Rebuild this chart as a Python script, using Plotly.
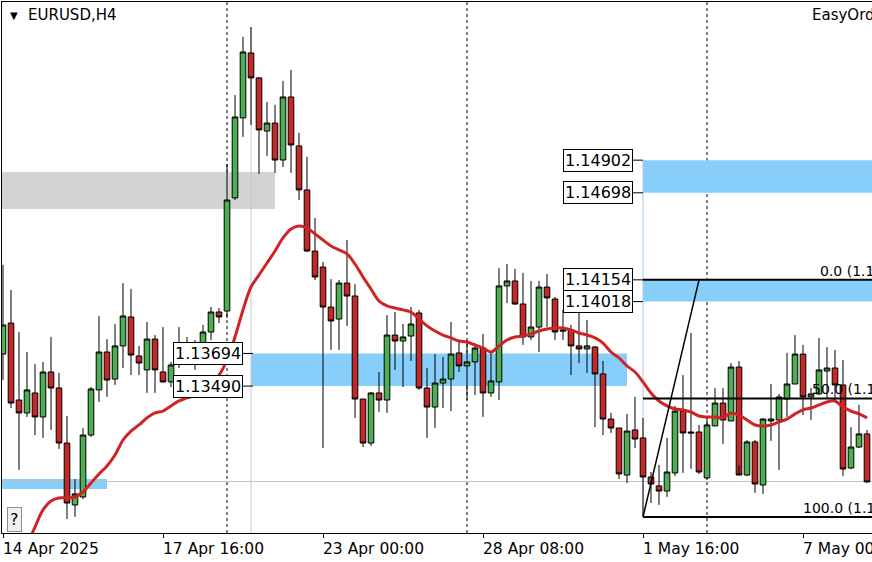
import plotly.graph_objects as go

# EURUSD H4 candles, one per bar (bar index 0 = first visible bar)
opens = [1.13690, 1.13884, 1.13403, 1.13322, 1.13447, 1.13297, 1.13578, 1.13478, 1.13134, 1.12747,
         1.12797, 1.13184, 1.13466, 1.13703, 1.13534, 1.13741, 1.13922, 1.13678, 1.13591, 1.13784,
         1.13578, 1.13516, 1.13628, 1.13747, 1.13697, 1.13716, 1.13828, 1.13953, 1.13959, 1.14666,
         1.15166, 1.15572, 1.15416, 1.15084, 1.15134, 1.14903, 1.15297, 1.14991, 1.14716, 1.14334,
         1.14234, 1.13984, 1.13909, 1.14134, 1.14053, 1.13409, 1.13134, 1.13447, 1.13403, 1.13809,
         1.13772, 1.13803, 1.13947, 1.13478, 1.13359, 1.13509, 1.13534, 1.13697, 1.13616, 1.13641,
         1.13728, 1.13447, 1.13516, 1.14116, 1.14147, 1.14003, 1.13797, 1.13859, 1.14109, 1.14034,
         1.13841, 1.13841, 1.13741, 1.13722, 1.13734, 1.13566, 1.13284, 1.13228, 1.12934, 1.13216,
         1.13166, 1.12922, 1.12866, 1.12834, 1.12947, 1.13334, 1.13203, 1.13203, 1.12916, 1.13241,
         1.13384, 1.13272, 1.13609, 1.12934, 1.13141, 1.12872, 1.13272, 1.13278, 1.13409, 1.13503,
         1.13690, 1.13422, 1.13441, 1.13584, 1.13603, 1.13497, 1.12978, 1.13109, 1.13191]
highs = [1.14247, 1.14091, 1.13828, 1.13703, 1.13628, 1.13641, 1.13797, 1.13572, 1.13303, 1.12909,
         1.13228, 1.13484, 1.13928, 1.13784, 1.13878, 1.14134, 1.14097, 1.13741, 1.13891, 1.13809,
         1.13859, 1.13641, 1.13859, 1.13797, 1.13778, 1.13872, 1.13984, 1.13978, 1.14878, 1.15309,
         1.15672, 1.15734, 1.15422, 1.15266, 1.15247, 1.15397, 1.15466, 1.15072, 1.14922, 1.14541,
         1.14266, 1.14159, 1.14153, 1.14403, 1.14128, 1.13409, 1.13453, 1.13578, 1.13934, 1.13953,
         1.13878, 1.13984, 1.13966, 1.13603, 1.13690, 1.13672, 1.13891, 1.13778, 1.13778, 1.13759,
         1.13816, 1.13703, 1.14228, 1.14253, 1.14222, 1.14197, 1.14147, 1.14147, 1.14191, 1.14047,
         1.13966, 1.13872, 1.14009, 1.13903, 1.13741, 1.13647, 1.13322, 1.13228, 1.13316, 1.13422,
         1.13291, 1.12953, 1.12997, 1.13166, 1.13366, 1.13559, 1.13822, 1.13247, 1.13297, 1.13478,
         1.13478, 1.13634, 1.13647, 1.13153, 1.13153, 1.13290, 1.13503, 1.13441, 1.13697, 1.13809,
         1.13747, 1.13478, 1.13791, 1.13734, 1.13716, 1.13653, 1.13234, 1.13372, 1.13216]
lows = [1.13528, 1.13353, 1.12966, 1.13297, 1.13184, 1.13166, 1.13216, 1.13097, 1.12659, 1.12672,
        1.12784, 1.13172, 1.13391, 1.13422, 1.13497, 1.13603, 1.13559, 1.13559, 1.13447, 1.13447,
        1.13509, 1.13484, 1.13603, 1.13653, 1.13591, 1.13697, 1.13778, 1.13884, 1.13916, 1.14653,
        1.15047, 1.15122, 1.14816, 1.14928, 1.14822, 1.14859, 1.14822, 1.14653, 1.14328, 1.14153,
        1.13103, 1.13716, 1.13716, 1.13866, 1.13291, 1.13109, 1.13116, 1.13328, 1.13322, 1.13591,
        1.13484, 1.13647, 1.13466, 1.13166, 1.13228, 1.13353, 1.13334, 1.13578, 1.13403, 1.13434,
        1.13297, 1.13422, 1.13403, 1.14009, 1.13997, 1.13747, 1.13778, 1.13703, 1.13859, 1.13778,
        1.13778, 1.13559, 1.13634, 1.13572, 1.13234, 1.13184, 1.13197, 1.12909, 1.12884, 1.13103,
        1.12672, 1.12759, 1.12747, 1.12797, 1.12928, 1.12947, 1.12972, 1.12941, 1.12903, 1.13241,
        1.13128, 1.13272, 1.12997, 1.12928, 1.12822, 1.12816, 1.13147, 1.12966, 1.13297, 1.13503,
        1.13309, 1.13278, 1.13434, 1.13409, 1.13397, 1.12928, 1.12972, 1.13103, 1.12884]
closes = [1.13872, 1.13384, 1.13322, 1.13466, 1.13297, 1.13578, 1.13478, 1.13134, 1.12759, 1.12816,
          1.13184, 1.13472, 1.13703, 1.13528, 1.13741, 1.13928, 1.13684, 1.13634, 1.13784, 1.13591,
          1.13516, 1.13622, 1.13753, 1.13703, 1.13716, 1.13828, 1.13953, 1.13922, 1.14653, 1.15172,
          1.15578, 1.15416, 1.15091, 1.15134, 1.14903, 1.15297, 1.14997, 1.14716, 1.14334, 1.14172,
          1.13984, 1.13897, 1.14134, 1.14053, 1.13409, 1.13134, 1.13447, 1.13403, 1.13809, 1.13772,
          1.13797, 1.13878, 1.13478, 1.13359, 1.13509, 1.13534, 1.13690, 1.13616, 1.13641, 1.13728,
          1.13447, 1.13522, 1.14116, 1.14147, 1.14003, 1.13797, 1.13859, 1.14109, 1.14041, 1.13828,
          1.13834, 1.13741, 1.13722, 1.13741, 1.13566, 1.13284, 1.13228, 1.12941, 1.13209, 1.13159,
          1.12922, 1.12878, 1.12834, 1.12953, 1.13334, 1.13197, 1.13197, 1.12953, 1.13247, 1.13384,
          1.13278, 1.13609, 1.12934, 1.13141, 1.12878, 1.13284, 1.13284, 1.13422, 1.13503, 1.13690,
          1.13422, 1.13441, 1.13591, 1.13603, 1.13497, 1.12972, 1.13109, 1.13191, 1.12891]

# moving average, from bar 3 onwards
ma_start = 3
ma_values = [1.12497, 1.12609, 1.12716, 1.12772, 1.12791, 1.12791, 1.12797, 1.12828, 1.12884, 1.12941,
             1.12991, 1.13059, 1.13153, 1.13209, 1.13247, 1.13291, 1.13322, 1.13334, 1.13366, 1.13397,
             1.13416, 1.13434, 1.13466, 1.13509, 1.13559, 1.13653, 1.13797, 1.13966, 1.14109, 1.14184,
             1.14259, 1.14334, 1.14416, 1.14472, 1.14491, 1.14478, 1.14441, 1.14403, 1.14366, 1.14341,
             1.14316, 1.14253, 1.14172, 1.14097, 1.14022, 1.13991, 1.13978, 1.13966, 1.13953, 1.13909,
             1.13866, 1.13834, 1.13809, 1.13791, 1.13772, 1.13766, 1.13747, 1.13728, 1.13703, 1.13741,
             1.13778, 1.13797, 1.13803, 1.13816, 1.13834, 1.13847, 1.13853, 1.13853, 1.13841, 1.13822,
             1.13809, 1.13791, 1.13759, 1.13703, 1.13666, 1.13616, 1.13578, 1.13516, 1.13447, 1.13397,
             1.13366, 1.13347, 1.13341, 1.13328, 1.13303, 1.13297, 1.13297, 1.13291, 1.13322, 1.13309,
             1.13278, 1.13247, 1.13241, 1.13247, 1.13266, 1.13284, 1.13316, 1.13341, 1.13353, 1.13372,
             1.13391, 1.13397, 1.13359, 1.13334, 1.13316, 1.13291]

tick_idx = [0, 20, 40, 60, 80, 100]
tick_text = ["14 Apr 2025", "17 Apr 16:00", "23 Apr 00:00", "28 Apr 08:00", "1 May 16:00", "7 May 00:00"]

# supply / demand boxes (blue) and labels
zone_hi = [1.14902, 1.14154, 1.13694, 1.12909]
zone_lo = [1.14698, 1.14018, 1.13490, 1.12847]
zone_from = [80, 80, 31, -1]
zone_to = [110, 110, 78, 13]
label_at = [78.75, 78.75, 30, None]

gray_hi, gray_lo, gray_to = 1.14828, 1.14597, 34
price_line = 1.12894
separators = [28, 58, 88]

# fibonacci
fib_lo_bar, fib_hi_bar = 80, 87
fib_lo, fib_hi = 1.12672, 1.14154
fib_levels = [0.0, 0.5, 1.0]

x = list(range(len(opens)))
ma_x = list(range(ma_start, ma_start + len(ma_values)))

fig = go.Figure()
fig.add_trace(go.Candlestick(
    x=x, open=opens, high=highs, low=lows, close=closes,
    increasing=dict(line=dict(color="black", width=1), fillcolor="#4caf50"),
    decreasing=dict(line=dict(color="black", width=1), fillcolor="#c62828"),
    whiskerwidth=0, hoverinfo="skip",
))
fig.add_trace(go.Scatter(x=ma_x, y=ma_values, mode="lines",
                         line=dict(color="#d02424", width=3, shape="spline"), hoverinfo="skip"))

shapes = []
for hi, lo, a, b in zip(zone_hi, zone_lo, zone_from, zone_to):
    shapes.append(dict(type="rect", x0=a, x1=b, y0=lo, y1=hi, xref="x", yref="y",
                       fillcolor="#87cefa", line=dict(width=0), layer="below"))
shapes.append(dict(type="rect", x0=-1, x1=gray_to, y0=gray_lo, y1=gray_hi,
                   fillcolor="#d3d3d3", line=dict(width=0), layer="below"))
shapes.append(dict(type="line", x0=-1, x1=110, y0=price_line, y1=price_line,
                   line=dict(color="#c0c0c0", width=1), layer="below"))
shapes.append(dict(type="line", x0=31, x1=31, y0=1.1250, y1=highs[31],
                   line=dict(color="#c8c8c8", width=1), layer="below"))
shapes.append(dict(type="line", x0=80, x1=80, y0=fib_lo, y1=zone_hi[0],
                   line=dict(color="#a8c8e8", width=1), layer="below"))
for s in separators:
    shapes.append(dict(type="line", x0=s, x1=s, y0=0, y1=1, yref="paper",
                       line=dict(color="black", width=1, dash="dot"), layer="below"))

# fib levels
for lvl in fib_levels:
    p = fib_hi - (fib_hi - fib_lo) * lvl
    shapes.append(dict(type="line", x0=fib_lo_bar, x1=110, y0=p, y1=p, line=dict(color="black", width=2)))
shapes.append(dict(type="line", x0=fib_lo_bar, x1=fib_hi_bar, y0=fib_lo, y1=fib_hi,
                   line=dict(color="black", width=1.5)))

annotations = []
for hi, lo, lx in zip(zone_hi, zone_lo, label_at):
    if lx is None:
        continue
    for p in (hi, lo):
        annotations.append(dict(x=lx, y=p, xref="x", yref="y", text=f"{p:.5f}", showarrow=False,
                                xanchor="right", yanchor="middle", bgcolor="white", bordercolor="black",
                                borderwidth=1, borderpad=1,
                                font=dict(family="DejaVu Sans", size=16, color="black")))
        shapes.append(dict(type="line", x0=lx, x1=lx + 1.25, y0=p, y1=p, line=dict(color="black", width=1)))

fib_text_x = [101.9, 100.9, 99.75]
for lvl, tx in zip(fib_levels, fib_text_x):
    p = fib_hi - (fib_hi - fib_lo) * lvl
    annotations.append(dict(x=tx, y=p, xref="x", yref="y", text=f"{lvl*100:.1f} ({p:.5f})", showarrow=False,
                            xanchor="left", yanchor="bottom", yshift=-1,
                            font=dict(family="DejaVu Sans", size=14, color="black")))

# time labels start at their tick, MT4 style
for t, lab in zip(tick_idx, tick_text):
    annotations.append(dict(x=t, y=0, xref="x", yref="paper", text=lab, showarrow=False,
                            xanchor="left", yanchor="top", xshift=-2, yshift=-5,
                            font=dict(family="DejaVu Sans", size=15.5, color="black")))

annotations += [
    dict(x=6 / 872, y=1 - 14 / 562, xref="paper", yref="paper", text="▼", showarrow=False,
         xanchor="left", yanchor="middle", font=dict(family="DejaVu Sans", size=10, color="black")),
    dict(x=24 / 872, y=1 - 14 / 562, xref="paper", yref="paper", text="EURUSD,H4", showarrow=False,
         xanchor="left", yanchor="middle", font=dict(family="DejaVu Sans", size=15, color="black")),
    dict(x=810 / 872, y=1 - 14 / 562, xref="paper", yref="paper", text="EasyOrder", showarrow=False,
         xanchor="left", yanchor="middle", font=dict(family="DejaVu Sans", size=15, color="black")),
    dict(x=5 / 872, y=0.002, xref="paper", yref="paper", text="?", showarrow=False,
         xanchor="left", yanchor="bottom", bgcolor="#f0f0f0", bordercolor="#909090",
         borderwidth=1, borderpad=2, font=dict(family="DejaVu Sans", size=16, color="black")),
]

fig.update_layout(
    width=872, height=562,
    margin=dict(l=2, r=0, t=2, b=29),
    paper_bgcolor="white", plot_bgcolor="white",
    showlegend=False, boxgap=0.3, boxgroupgap=0,
    shapes=shapes, annotations=annotations,
    xaxis=dict(range=[-0.125, 108.625], showgrid=False, zeroline=False,
               showline=True, linecolor="black", linewidth=1, mirror=True,
               ticks="outside", ticklen=4, tickcolor="black",
               tickvals=tick_idx, showticklabels=False,
               rangeslider=dict(visible=False)),
    yaxis=dict(range=[1.1257175, 1.158905], showgrid=False, zeroline=False,
               showticklabels=False, showline=True, linecolor="black", linewidth=1, ticks=""),
)

# page body has a default 8px margin; drop it so the chart sits at the window corner
fig.write_html("out.html", config={"displayModeBar": False},
               post_script="document.body.style.margin='0px';document.body.style.overflow='hidden';")
